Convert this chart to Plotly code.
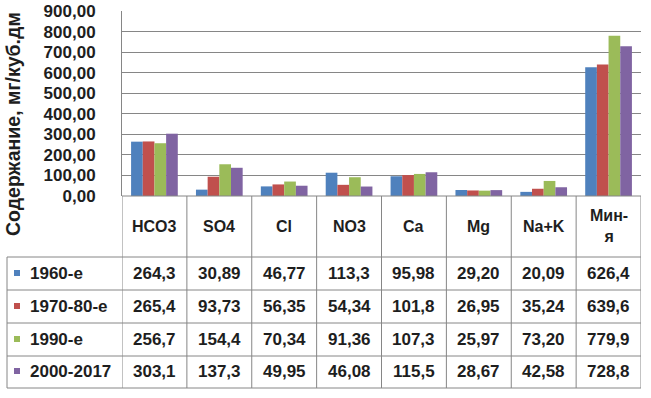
import plotly.graph_objects as go

categories = ["HCO3", "SO4", "Cl", "NO3", "Ca", "Mg", "Na+K", "Мин-<br>я"]
series_names = ["1960-е", "1970-80-е", "1990-е", "2000-2017"]
v1960 = [264.3, 30.89, 46.77, 113.3, 95.98, 29.20, 20.09, 626.4]
v1970 = [265.4, 93.73, 56.35, 54.34, 101.8, 26.95, 35.24, 639.6]
v1990 = [256.7, 154.4, 70.34, 91.36, 107.3, 25.97, 73.20, 779.9]
v2000 = [303.1, 137.3, 49.95, 46.08, 115.5, 28.67, 42.58, 728.8]
labels1960 = ["264,3", "30,89", "46,77", "113,3", "95,98", "29,20", "20,09", "626,4"]
labels1970 = ["265,4", "93,73", "56,35", "54,34", "101,8", "26,95", "35,24", "639,6"]
labels1990 = ["256,7", "154,4", "70,34", "91,36", "107,3", "25,97", "73,20", "779,9"]
labels2000 = ["303,1", "137,3", "49,95", "46,08", "115,5", "28,67", "42,58", "728,8"]
colors = ["#4F81BD", "#C0504D", "#9BBB59", "#8064A2"]
y_ticks = [0, 100, 200, 300, 400, 500, 600, 700, 800, 900]

W, H = 651, 398
L, R, T, B = 122, 641, 11, 196  # plot area pixels
FONT = "Liberation Sans"
LINE = "#868686"
TXT = "#1e1e1e"

def px(x):
    return (x - L) / (R - L)

def py(y):
    return (B - y) / (B - T)

idx = list(range(len(categories)))
values = [v1960, v1970, v1990, v2000]
labels = [labels1960, labels1970, labels1990, labels2000]

fig = go.Figure()
for name, vals, c in zip(series_names, values, colors):
    fig.add_trace(go.Bar(x=idx, y=vals, name=name, marker=dict(color=c, line=dict(width=0))))

shapes = []
annotations = []
row_lines = [257, 290, 323, 356, 388]
for yl in row_lines:
    shapes.append(dict(type="line", xref="paper", yref="paper", x0=px(7), x1=px(R), y0=py(yl), y1=py(yl),
                       line=dict(color=LINE, width=1)))
shapes.append(dict(type="line", xref="paper", yref="paper", x0=0, x1=1, y0=0, y1=0, line=dict(color=LINE, width=1)))
shapes.append(dict(type="line", xref="paper", yref="paper", x0=px(7), x1=px(7), y0=py(257), y1=py(388),
                   line=dict(color=LINE, width=1)))
for k in range(len(categories) + 1):
    xb = k - 0.5
    shapes.append(dict(type="line", xref="x", yref="paper", x0=xb, x1=xb, y0=0, y1=py(388),
                       line=dict(color=LINE, width=1)))

for i, c in enumerate(categories):
    annotations.append(dict(x=i, y=py(226), xref="x", yref="paper", text="<b>" + c + "</b>", showarrow=False,
                            font=dict(family=FONT, size=16, color=TXT), xanchor="center", yanchor="middle"))
row_centers = [273, 306, 339, 371]
for r, (name, labs, c) in enumerate(zip(series_names, labels, colors)):
    yc = row_centers[r]
    shapes.append(dict(type="rect", xref="paper", yref="paper", x0=px(14), x1=px(20), y0=py(yc - 3), y1=py(yc + 3),
                       fillcolor=c, line=dict(width=0)))
    annotations.append(dict(x=px(28), y=py(yc), xref="paper", yref="paper", text="<b>" + name + "</b>",
                            showarrow=False, font=dict(family=FONT, size=17, color=TXT),
                            xanchor="left", yanchor="middle"))
    for i, t in enumerate(labs):
        annotations.append(dict(x=i, y=py(yc), xref="x", yref="paper", text="<b>" + t + "</b>", showarrow=False,
                                font=dict(family=FONT, size=17, color=TXT), xanchor="center", yanchor="middle"))

annotations.append(dict(x=px(13), y=py(124), xref="paper", yref="paper", text="<b>Содержание, мг/куб.дм</b>",
                        showarrow=False, textangle=-90, font=dict(family=FONT, size=19.5, color=TXT),
                        xanchor="center", yanchor="middle"))

fig.update_layout(
    width=W, height=H,
    margin=dict(l=L, r=W - R, t=T, b=H - B, pad=0, autoexpand=False),
    paper_bgcolor="white", plot_bgcolor="white",
    showlegend=False,
    barmode="group", bargap=0.28, bargroupgap=0,
    separators=", ",
    shapes=shapes, annotations=annotations,
    xaxis=dict(range=[-0.5, len(categories) - 0.5], showticklabels=False, showgrid=False, zeroline=False,
               showline=False, ticks="", automargin=False),
    yaxis=dict(range=[0, 900], tickvals=y_ticks, tickformat=".2f", showgrid=True, gridcolor=LINE, gridwidth=1,
               zeroline=False, showline=True, linecolor=LINE, linewidth=1, ticks="", automargin=False,
               ticklabelstandoff=22, tickfont=dict(family=FONT, size=17, color=TXT, weight="bold")),
)
fig.write_html("out.html", config={"displayModeBar": False},
               post_script="document.body.style.margin='0';document.body.style.overflow='hidden';")
